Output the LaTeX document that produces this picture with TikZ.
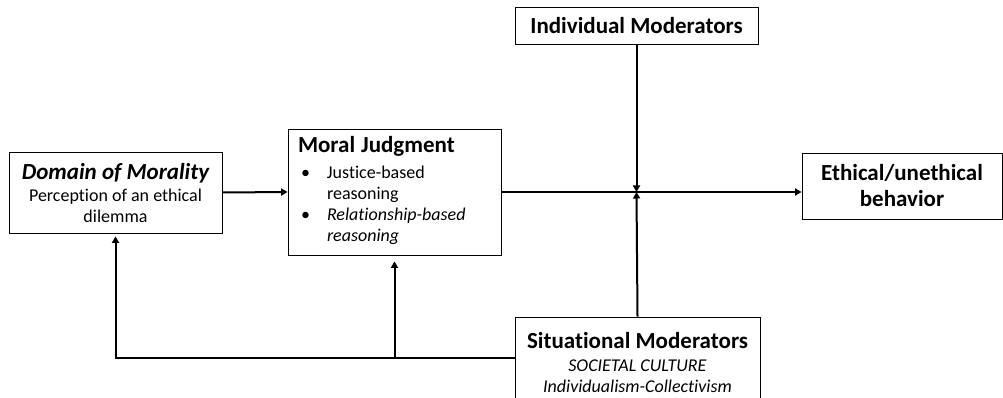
\documentclass[tikz,border=0pt]{standalone}
\usepackage{fontspec}
\setmainfont[Ligatures = NoCommon]{Carlito}
\usetikzlibrary{arrows.meta}

\newcommand{\modelhead}{\fontsize{23}{26}\selectfont\bfseries}

\tikzset{
	modelpicture/.style = {
		x = 1pt,
		y = -1pt,
		arrow/.style = {
			draw,
			line width = 2pt,
			-{Triangle[length = 6.5pt, width = 7pt]},
		}
	},
	modelnode/.style = {
		draw = black,
		line width = 0.8pt,
		fill = white,
		align = center,
		font = \fontsize{18}{21}\selectfont
	}
}

\begin{document}
\begin{tikzpicture}[modelpicture]
	\useasboundingbox (0,0) rectangle (1003,398);

	\node[modelnode, minimum width = 213pt, minimum height = 81pt] (domain) at (115.5,192.5)
		{{\modelhead\itshape Domain of Morality}\\[1pt]Perception of an ethical\\dilemma};
	\node[modelnode, text width = 193pt, inner xsep = 10pt, minimum height = 126pt, align = left] (moral) at (394.5,192) {%
		\begin{tabular}{@{}p{29pt}@{}l@{}}
			\multicolumn{2}{@{}l@{}}{\modelhead Moral Judgment}\\[5pt]
			\hspace{3pt}\textbullet & Justice-based\\
			& reasoning\\
			\hspace{3pt}\textbullet & \textit{Relationship-based}\\
			& \textit{reasoning}
		\end{tabular}};
	\node[modelnode, font = \modelhead, minimum width = 243pt, minimum height = 37pt] (individual) at (636.5,25.5) {Individual Moderators};
	\node[modelnode, font = \modelhead, minimum width = 200pt, minimum height = 66pt] (ethical) at (902,186) {Ethical/unethical\\behavior};
	\node[modelnode, minimum width = 245pt, minimum height = 90pt] (situational) at (637.5,362)
		{{\modelhead Situational Moderators}\\[2pt]\textit{SOCIETAL CULTURE}\\\textit{Individualism-Collectivism}};

	\coordinate (junction) at (individual.south |- moral.east);
	\coordinate (fork) at ([yshift = 4pt]situational.west);

	\path[arrow] (domain.east) -- (moral.west);
	\path[arrow] (moral.east) -- (moral.east -| ethical.west);
	\path[arrow] (individual.south) -- (junction);
	\path[arrow] (situational.north) -- (junction);
	\path[arrow, shorten >= 3pt] (fork) -| (domain.south);
	\path[arrow, shorten >= 6pt] (fork -| moral.south) -- (moral.south);
\end{tikzpicture}
\end{document}
